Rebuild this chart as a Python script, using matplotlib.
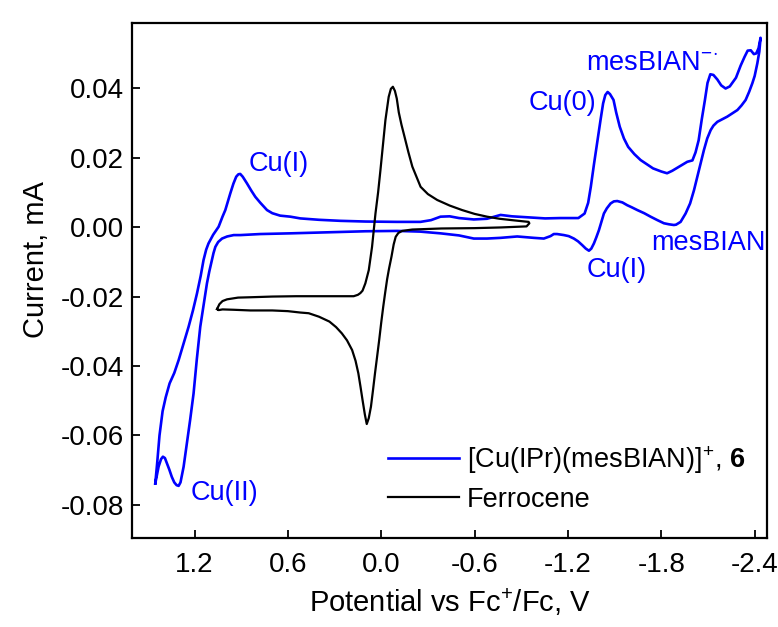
import matplotlib
matplotlib.use("Agg")
import matplotlib.pyplot as plt

# [Cu(IPr)(mesBIAN)]+ CV: outer branch from +1.45 V out to -2.44 V, then back
blue_v = [1.452, 1.440, 1.425, 1.405, 1.385, 1.360, 1.330, 1.302, 1.270, 1.238,
          1.210, 1.184, 1.160, 1.142, 1.125, 1.110, 1.080, 1.045, 1.020, 1.002,
          0.985, 0.970, 0.950, 0.932, 0.918, 0.906, 0.890, 0.863, 0.835, 0.809,
          0.777, 0.734, 0.700, 0.650, 0.584, 0.520, 0.400, 0.262, 0.100, -0.100,
          -0.252, -0.320, -0.381, -0.440, -0.500, -0.595, -0.680, -0.767, -0.840, -0.947,
          -1.053, -1.150, -1.267, -1.307, -1.330, -1.347, -1.367, -1.387, -1.410, -1.426,
          -1.440, -1.455, -1.470, -1.493, -1.510, -1.533, -1.560, -1.587, -1.627, -1.667,
          -1.747, -1.800, -1.837, -1.870, -1.907, -1.967, -2.000, -2.020, -2.040, -2.060,
          -2.080, -2.097, -2.115, -2.135, -2.160, -2.185, -2.213, -2.240, -2.280, -2.310,
          -2.335, -2.355, -2.375, -2.395, -2.410, -2.425, -2.438,
          -2.430, -2.417, -2.400, -2.385, -2.365, -2.342, -2.315, -2.289, -2.224, -2.160,
          -2.135, -2.117, -2.095, -2.074, -2.042, -2.010, -1.985, -1.956, -1.924, -1.895,
          -1.881, -1.850, -1.817, -1.775, -1.731, -1.690, -1.646, -1.610, -1.581, -1.550,
          -1.517, -1.495, -1.474, -1.450, -1.431, -1.415, -1.399, -1.382, -1.367, -1.350,
          -1.335, -1.315, -1.292, -1.265, -1.238, -1.205, -1.174, -1.130, -1.109, -1.088,
          -1.045, -0.981, -0.874, -0.767, -0.680, -0.595, -0.500, -0.381, -0.250, -0.102,
          0.100, 0.262, 0.420, 0.584, 0.777, 0.905, 0.948, 0.990, 1.023, 1.048,
          1.066, 1.078, 1.088, 1.105, 1.120, 1.140, 1.163, 1.185, 1.206, 1.228,
          1.249, 1.270, 1.290, 1.302, 1.315, 1.330, 1.346, 1.362, 1.377, 1.390,
          1.403, 1.415, 1.431, 1.442, 1.452]
blue_i = [-0.0738, -0.0680, -0.0600, -0.0530, -0.0490, -0.0450, -0.0420, -0.0383, -0.0335, -0.0287,
          -0.0240, -0.0191, -0.0140, -0.0095, -0.0065, -0.0047, -0.0022, 0.0001, 0.0030, 0.0049,
          0.0075, 0.0097, 0.0125, 0.0145, 0.0152, 0.0153, 0.0145, 0.0126, 0.0105, 0.0087,
          0.0070, 0.0049, 0.0040, 0.0033, 0.0030, 0.0025, 0.0021, 0.0018, 0.0016, 0.0015,
          0.0015, 0.0020, 0.0030, 0.0031, 0.0026, 0.0022, 0.0024, 0.0035, 0.0031, 0.0028,
          0.0025, 0.0026, 0.0026, 0.0039, 0.0070, 0.0116, 0.0180, 0.0241, 0.0310, 0.0356,
          0.0380, 0.0389, 0.0383, 0.0366, 0.0330, 0.0289, 0.0255, 0.0231, 0.0210, 0.0193,
          0.0169, 0.0160, 0.0155, 0.0162, 0.0172, 0.0188, 0.0192, 0.0215, 0.0250, 0.0310,
          0.0365, 0.0415, 0.0440, 0.0438, 0.0425, 0.0408, 0.0399, 0.0405, 0.0430, 0.0465,
          0.0490, 0.0508, 0.0509, 0.0498, 0.0500, 0.0515, 0.0545,
          0.0505, 0.0471, 0.0435, 0.0414, 0.0390, 0.0366, 0.0350, 0.0337, 0.0318, 0.0303,
          0.0292, 0.0279, 0.0255, 0.0222, 0.0164, 0.0106, 0.0068, 0.0039, 0.0015, 0.0007,
          0.0006, 0.0008, 0.0011, 0.0020, 0.0030, 0.0040, 0.0049, 0.0057, 0.0063, 0.0071,
          0.0075, 0.0074, 0.0068, 0.0054, 0.0039, 0.0015, -0.0009, -0.0030, -0.0047, -0.0062,
          -0.0068, -0.0062, -0.0052, -0.0041, -0.0033, -0.0026, -0.0023, -0.0020, -0.0020, -0.0026,
          -0.0033, -0.0031, -0.0027, -0.0031, -0.0033, -0.0033, -0.0024, -0.0018, -0.0013, -0.0011,
          -0.0012, -0.0014, -0.0016, -0.0018, -0.0020, -0.0023, -0.0023, -0.0027, -0.0033, -0.0043,
          -0.0057, -0.0075, -0.0095, -0.0128, -0.0162, -0.0220, -0.0287, -0.0380, -0.0479, -0.0555,
          -0.0623, -0.0690, -0.0735, -0.0745, -0.0743, -0.0735, -0.0719, -0.0698, -0.0680, -0.0665,
          -0.0661, -0.0668, -0.0690, -0.0715, -0.0738]

# ferrocene CV
fc_v = [1.055, 1.040, 1.020, 0.991, 0.920, 0.841, 0.700, 0.547, 0.400, 0.250,
        0.177, 0.150, 0.134, 0.120, 0.102, 0.080, 0.059, 0.037, 0.020, 0.005,
        -0.011, -0.027, -0.048, -0.062, -0.075, -0.088, -0.100, -0.113, -0.130, -0.147,
        -0.175, -0.200, -0.253, -0.300, -0.360, -0.440, -0.520, -0.600, -0.680, -0.760,
        -0.840, -0.947, -0.952,
        -0.934, -0.770, -0.600, -0.387, -0.200, -0.134, -0.110, -0.093, -0.080, -0.066,
        -0.050, -0.038, -0.025, -0.013, 0.000, 0.013, 0.027, 0.040, 0.053, 0.066,
        0.080, 0.093, 0.105, 0.120, 0.133, 0.147, 0.165, 0.187, 0.220, 0.253,
        0.290, 0.333, 0.400, 0.466, 0.520, 0.600, 0.700, 0.841, 0.950, 1.020,
        1.045, 1.055]
fc_i = [-0.0236, -0.0222, -0.0213, -0.0208, -0.0203, -0.0202, -0.0200, -0.0199, -0.0199, -0.0199,
        -0.0199, -0.0195, -0.0190, -0.0183, -0.0162, -0.0124, -0.0057, 0.0039, 0.0100, 0.0164,
        0.0236, 0.0308, 0.0375, 0.0398, 0.0404, 0.0392, 0.0370, 0.0330, 0.0295, 0.0265,
        0.0215, 0.0174, 0.0116, 0.0095, 0.0078, 0.0062, 0.0049, 0.0038, 0.0030, 0.0024,
        0.0020, 0.0015, 0.0011,
        0.0002, -0.0001, -0.0003, -0.0004, -0.0007, -0.0011, -0.0017, -0.0028, -0.0050, -0.0085,
        -0.0120, -0.0150, -0.0190, -0.0229, -0.0275, -0.0325, -0.0375, -0.0421, -0.0470, -0.0517,
        -0.0550, -0.0567, -0.0540, -0.0498, -0.0460, -0.0421, -0.0385, -0.0354, -0.0326, -0.0306,
        -0.0288, -0.0272, -0.0258, -0.0248, -0.0246, -0.0242, -0.0240, -0.0240, -0.0238, -0.0237,
        -0.0239, -0.0236]

x_ticks = [1.2, 0.6, 0.0, -0.6, -1.2, -1.8, -2.4]
y_ticks = [-0.08, -0.06, -0.04, -0.02, 0.00, 0.02, 0.04]

# peak labels: text, potential, current
peak_labels = ["Cu(I)", "mesBIAN$^{-\\!\\cdot}$", "Cu(0)", "mesBIAN", "Cu(I)", "Cu(II)"]
peak_v = [0.854, -1.319, -0.947, -1.738, -1.319, 1.227]
peak_i = [0.0181, 0.0472, 0.0357, -0.0046, -0.0124, -0.0766]

BLUE = "#0000ff"

plt.rcParams["font.family"] = ["Liberation Sans", "DejaVu Sans"]
plt.rcParams["mathtext.fontset"] = "custom"
plt.rcParams["mathtext.rm"] = "Liberation Sans"
plt.rcParams["mathtext.it"] = "Liberation Sans:italic"
plt.rcParams["mathtext.bf"] = "Liberation Sans:bold"
plt.rcParams["axes.unicode_minus"] = False

fig = plt.figure(figsize=(7.78, 6.27), dpi=100)
ax = fig.add_subplot(111)
fig.subplots_adjust(left=0.170, right=0.986, top=0.963, bottom=0.142)

ax.plot(blue_v, blue_i, color=BLUE, linewidth=1.9,
        label="[Cu(IPr)(mesBIAN)]$^{+}$, $\\mathbf{6}$")
ax.plot(fc_v, fc_i, color="black", linewidth=1.6, label="Ferrocene")

for txt, v, i in zip(peak_labels, peak_v, peak_i):
    ax.text(v, i, txt, color=BLUE, fontsize=19.5, ha="left", va="center")

ax.set_xlim(1.6, -2.48)
ax.set_ylim(-0.0895, 0.0587)
ax.set_xticks(x_ticks)
ax.set_xticklabels([f"{t:.1f}" for t in x_ticks])
ax.set_yticks(y_ticks)
ax.set_yticklabels([f"{t:.2f}" for t in y_ticks])
ax.tick_params(direction="in", length=6, width=1.3, labelsize=20,
               top=False, right=False)
ax.tick_params(axis="x", pad=10)
ax.tick_params(axis="y", pad=6)
for s in ax.spines.values():
    s.set_linewidth(1.6)

ax.set_xlabel("Potential vs Fc$^{+}$/Fc, V", fontsize=21, labelpad=6)
ax.set_ylabel("Current, mA", fontsize=21)
ax.yaxis.set_label_coords(-0.13, 0.54)

ax.legend(loc="upper left", bbox_to_anchor=(0.403, 0.182), borderpad=0,
          borderaxespad=0, handlelength=2.6, handletextpad=0.3,
          labelspacing=0.4, frameon=False, fontsize=19.5)

fig.savefig("out.png", dpi=100)
